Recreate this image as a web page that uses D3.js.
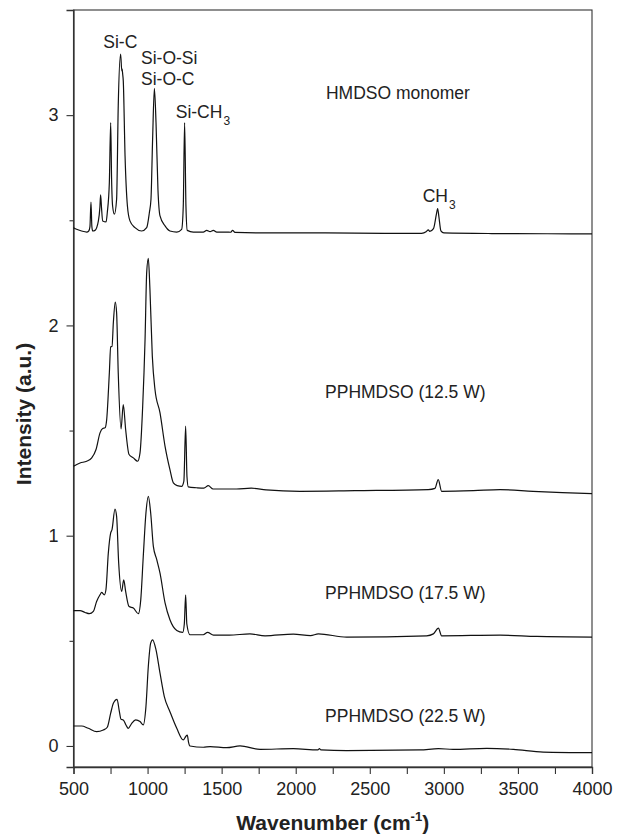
<!DOCTYPE html>
<html>
<head>
<meta charset="utf-8">
<script src="https://cdn.jsdelivr.net/npm/d3@7"></script>
<style>
  html, body { margin: 0; padding: 0; background: #fff; }
  svg { display: block; font-family: "Liberation Sans", Arial, sans-serif; }
</style>
</head>
<body>
<div id="chart"></div>
<script>
// FTIR spectra (wavenumber cm-1, intensity a.u.)
const monomerWn = [500, 521, 555, 589, 603, 611, 618, 624, 630, 645, 668, 678, 683, 689, 697, 720, 728, 742, 751, 757, 764, 776, 791, 802, 818, 826, 828, 832, 836, 848, 864, 881, 915, 960, 994, 1012, 1023, 1034, 1046, 1057, 1070, 1084, 1118, 1151, 1197, 1230, 1241, 1250, 1259, 1268, 1309, 1376, 1399, 1422, 1444, 1467, 1534, 1560, 1574, 1590, 1800, 2200, 2600, 2850, 2880, 2895, 2905, 2930, 2950, 2958, 2966, 2980, 3000, 3300, 3700, 4000];
const monomerI = [2.465, 2.457, 2.449, 2.444, 2.449, 2.47, 2.587, 2.47, 2.449, 2.452, 2.497, 2.56, 2.621, 2.56, 2.497, 2.492, 2.536, 2.68, 2.965, 2.70, 2.568, 2.529, 2.60, 3.044, 3.29, 3.21, 3.22, 3.195, 3.163, 2.806, 2.568, 2.497, 2.465, 2.449, 2.465, 2.536, 2.60, 2.886, 3.127, 2.965, 2.648, 2.521, 2.473, 2.449, 2.444, 2.457, 2.568, 2.965, 2.568, 2.452, 2.444, 2.444, 2.452, 2.446, 2.452, 2.444, 2.444, 2.443, 2.452, 2.442, 2.44, 2.44, 2.438, 2.438, 2.445, 2.454, 2.447, 2.46, 2.53, 2.556, 2.52, 2.45, 2.44, 2.437, 2.436, 2.435];

const w125Wn = [500, 544, 589, 623, 652, 679, 697, 713, 724, 742, 751, 760, 769, 782, 791, 802, 821, 836, 852, 875, 904, 933, 949, 967, 983, 994, 1005, 1016, 1032, 1050, 1084, 1118, 1151, 1174, 1200, 1230, 1245, 1257, 1266, 1275, 1330, 1380, 1410, 1442, 1600, 1700, 1800, 2029, 2400, 2895, 2940, 2962, 2985, 3200, 3379, 3602, 3800, 4000];
const w125I = [1.330, 1.346, 1.354, 1.370, 1.410, 1.489, 1.510, 1.513, 1.552, 1.775, 1.898, 1.90, 2.013, 2.111, 2.06, 1.775, 1.508, 1.624, 1.505, 1.386, 1.370, 1.354, 1.394, 1.616, 1.933, 2.251, 2.319, 2.171, 1.854, 1.695, 1.584, 1.425, 1.314, 1.251, 1.238, 1.235, 1.26, 1.521, 1.28, 1.232, 1.228, 1.226, 1.238, 1.222, 1.222, 1.226, 1.218, 1.211, 1.214, 1.219, 1.225, 1.267, 1.211, 1.214, 1.219, 1.211, 1.205, 1.200];

const w175Wn = [500, 544, 578, 607, 634, 656, 679, 690, 708, 719, 735, 751, 760, 780, 791, 805, 825, 839, 852, 875, 904, 938, 954, 971, 989, 1005, 1021, 1039, 1062, 1084, 1118, 1151, 1197, 1237, 1248, 1257, 1265, 1286, 1376, 1405, 1445, 1552, 1691, 1793, 1984, 2100, 2153, 2344, 2884, 2929, 2963, 2985, 3379, 3627, 4000];
const w175I = [0.644, 0.644, 0.635, 0.629, 0.640, 0.687, 0.719, 0.730, 0.719, 0.743, 0.917, 1.013, 1.029, 1.127, 1.092, 0.870, 0.735, 0.790, 0.735, 0.663, 0.656, 0.629, 0.695, 0.902, 1.108, 1.187, 1.108, 0.949, 0.886, 0.822, 0.680, 0.600, 0.549, 0.540, 0.58, 0.719, 0.58, 0.529, 0.529, 0.540, 0.527, 0.527, 0.533, 0.524, 0.532, 0.525, 0.533, 0.518, 0.524, 0.533, 0.560, 0.524, 0.527, 0.521, 0.518];

const w225Wn = [500, 555, 600, 656, 701, 728, 751, 769, 794, 808, 821, 836, 854, 870, 893, 920, 949, 971, 989, 1005, 1021, 1034, 1057, 1084, 1113, 1151, 1197, 1241, 1258, 1268, 1276, 1286, 1376, 1422, 1534, 1624, 1759, 1984, 2150, 2160, 2170, 2344, 2839, 2963, 3062, 3289, 3469, 3671, 4000];
const w225I = [0.095, 0.095, 0.084, 0.068, 0.076, 0.089, 0.156, 0.203, 0.222, 0.171, 0.127, 0.124, 0.100, 0.084, 0.108, 0.124, 0.116, 0.100, 0.187, 0.378, 0.489, 0.505, 0.457, 0.346, 0.235, 0.163, 0.084, 0.029, 0.045, 0.052, 0.02, 0.0, -0.006, -0.003, -0.008, 0.0, -0.016, -0.013, -0.019, -0.012, -0.019, -0.022, -0.019, -0.013, -0.016, -0.011, -0.016, -0.029, -0.032];

// axis ticks
const xMajorTicks = [500, 1000, 1500, 2000, 2500, 3000, 3500, 4000];
const xMinorTicks = [750, 1250, 1750, 2250, 2750, 3250, 3750];
const yMajorTicks = [0, 1, 2, 3];
const yMinorTicks = [0.5, 1.5, 2.5];

// sample names and band labels (text anchored in data units)
const sampleNames = ['HMDSO monomer', 'PPHMDSO (12.5 W)', 'PPHMDSO (17.5 W)', 'PPHMDSO (22.5 W)'];
const sampleLabelWn = [2204, 2198, 2198, 2198];
const sampleLabelI = [3.076, 1.656, 0.700, 0.116];
const bandNames = ['Si-C', 'Si-O-Si', 'Si-O-C', 'Si-CH', 'CH'];
const bandSubs = ['', '', '', '3', '3'];
const bandWn = [701, 956, 956, 1190, 2857];
const bandI = [3.319, 3.243, 3.143, 2.986, 2.586];

// 크기 설정
const width = 619, height = 836;
const margin = { top: 10, right: 27, bottom: 69, left: 73.5 };

const svg = d3.select('#chart').append('svg')
    .attr('width', width)
    .attr('height', height);

const x = d3.scaleLinear().domain([500, 4000]).range([margin.left, width - margin.right]);
const y = d3.scaleLinear().domain([-0.1, 3.5]).range([height - margin.bottom, margin.top]);

// 프레임
svg.append('rect')
    .attr('x', x(500)).attr('y', y(3.5))
    .attr('width', x(4000) - x(500)).attr('height', y(-0.1) - y(3.5))
    .attr('fill', 'none').attr('stroke', '#333').attr('stroke-width', 1.1);

// x axis
const xAxis = svg.append('g').attr('transform', `translate(0,${y(-0.1)})`);
xAxis.call(d3.axisBottom(x).tickValues(xMajorTicks).tickSize(7).tickPadding(8).tickFormat(d3.format('d')));
xAxis.append('g').call(d3.axisBottom(x).tickValues(xMinorTicks).tickSize(7).tickFormat(''))
    .select('.domain').remove();

// y axis
const yAxis = svg.append('g').attr('transform', `translate(${x(500)},0)`);
yAxis.call(d3.axisLeft(y).tickValues(yMajorTicks).tickSize(7).tickPadding(8).tickFormat(d3.format('d')));
yAxis.append('g').call(d3.axisLeft(y).tickValues(yMinorTicks).tickSize(4).tickFormat(''))
    .select('.domain').remove();

svg.selectAll('.domain').attr('stroke', '#333').attr('stroke-width', 1.3);
svg.selectAll('.tick line').attr('stroke', '#333').attr('stroke-width', 1.1);
svg.selectAll('.tick text')
    .attr('font-size', 18)
    .attr('fill', '#222')
    .attr('font-family', '"Liberation Sans", Arial, sans-serif');

// spectra
const line = d3.line()
    .x(d => x(d[0]))
    .y(d => y(d[1]))
    .curve(d3.curveMonotoneX);

const spectra = [
    d3.zip(monomerWn, monomerI),
    d3.zip(w125Wn, w125I),
    d3.zip(w175Wn, w175I),
    d3.zip(w225Wn, w225I)
];

svg.append('g')
    .selectAll('path')
    .data(spectra)
    .enter()
    .append('path')
    .attr('d', line)
    .attr('fill', 'none')
    .attr('stroke', '#111')
    .attr('stroke-width', 1.2)
    .attr('stroke-linejoin', 'round');

// sample labels
svg.append('g')
    .selectAll('text')
    .data(sampleNames)
    .enter()
    .append('text')
    .attr('x', (d, i) => x(sampleLabelWn[i]))
    .attr('y', (d, i) => y(sampleLabelI[i]))
    .attr('font-size', 17.5)
    .attr('fill', '#222')
    .text(d => d);

// band labels with subscripts
const bands = svg.append('g')
    .selectAll('text')
    .data(bandNames)
    .enter()
    .append('text')
    .attr('x', (d, i) => x(bandWn[i]))
    .attr('y', (d, i) => y(bandI[i]))
    .attr('font-size', 17.5)
    .attr('fill', '#222');
bands.append('tspan').text(d => d);
bands.append('tspan')
    .attr('dy', 7)
    .attr('dx', 1)
    .attr('font-size', 12)
    .text((d, i) => bandSubs[i]);

// axis titles
const xTitle = svg.append('text')
    .attr('x', (x(500) + x(4000)) / 2)
    .attr('y', 830)
    .attr('text-anchor', 'middle')
    .attr('font-size', 21)
    .attr('font-weight', 'bold')
    .attr('fill', '#222');
xTitle.append('tspan').text('Wavenumber (cm');
xTitle.append('tspan').attr('dy', -9).attr('font-size', 13).text('-1');
xTitle.append('tspan').attr('dy', 9).text(')');

svg.append('text')
    .attr('transform', `translate(31,414) rotate(-90)`)
    .attr('text-anchor', 'middle')
    .attr('font-size', 21)
    .attr('font-weight', 'bold')
    .attr('fill', '#222')
    .text('Intensity (a.u.)');
</script>
</body>
</html>
